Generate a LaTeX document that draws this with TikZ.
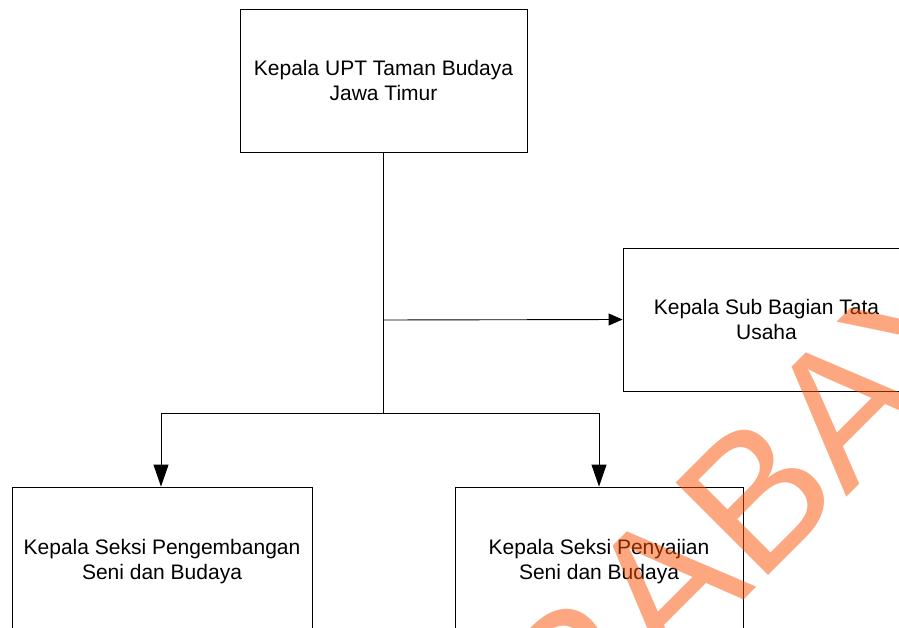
\documentclass[tikz,border=0pt]{standalone}
\usepackage{fontspec}
\setmainfont{Liberation Sans}
\newfontfamily\wmfont{Liberation Sans}
\usetikzlibrary{arrows.meta}
\definecolor{wmorange}{RGB}{250,80,0}
\tikzset{
  orgbox/.style={draw=black, line width=0.9pt, minimum width=287pt, minimum height=143pt,
    inner sep=0pt, align=center, font=\fontsize{21}{24.3}\selectfont},
  conn/.style={draw=black, line width=0.9pt},
  downtip/.style={-{Triangle[length=22pt,width=15pt]}},
  righttip/.style={-{Triangle[length=14pt,width=12pt]}},
  watermark/.style={text=wmorange, text opacity=0.5, font=\wmfont\fontsize{190}{190}\selectfont,
    inner sep=0pt, rotate=45, anchor=base west}
}
\begin{document}
\begin{tikzpicture}[x=1pt, y=-1pt]
\useasboundingbox (0,0) rectangle (899,628);
\clip (0,0) rectangle (899,628);
\fill[white] (0,0) rectangle (899,628);
\node[orgbox] (top) at (383.5,80.5) {Kepala UPT Taman Budaya\\Jawa Timur};
\node[orgbox] (sub) at (766.5,319.5) {Kepala Sub Bagian Tata\\Usaha};
\node[orgbox, minimum width=300pt, minimum height=149pt] (peng) at (162,561.5) {Kepala Seksi Pengembangan\\Seni dan Budaya};
\node[orgbox, minimum width=288pt, minimum height=149pt] (peny) at (599,561.5) {Kepala Seksi Penyajian\\Seni dan Budaya};
\coordinate (j1) at (383.5,320);
\coordinate (j2) at (383.5,413);
\coordinate (l2) at (161,413);
\coordinate (r2) at (599,413);
\draw[conn] (top.south) -- (j2);
\draw[conn, righttip] (j1) -- (sub.west);
\draw[conn] (l2) -- (r2);
\draw[conn, downtip] (l2) -- (l2 |- peng.north);
\draw[conn, downtip] (r2) -- (r2 |- peny.north);
\node[watermark] (wm) at (384,960) {SURABAYA};
\end{tikzpicture}
\end{document}
